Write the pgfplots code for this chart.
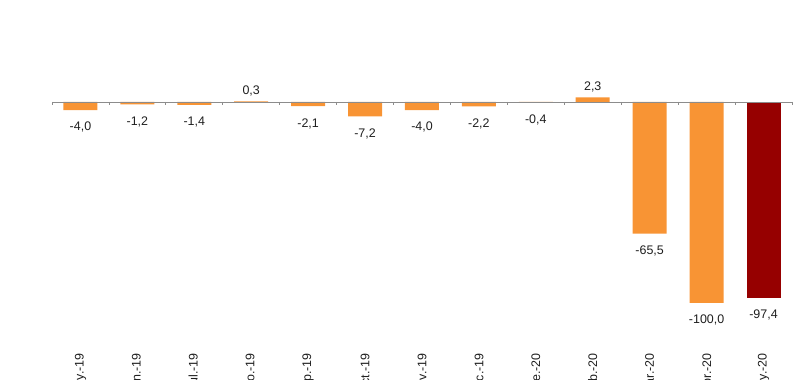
\documentclass[border=0pt]{standalone}
\usepackage{pgfplots}
\pgfplotsset{compat=1.18}
\usepackage{fontspec}
\setmainfont{Liberation Sans}
\definecolor{barorange}{RGB}{248,148,52}
\definecolor{bardark}{RGB}{150,0,0}
\definecolor{axgray}{RGB}{140,140,140}
\definecolor{txt}{RGB}{30,30,30}
\begin{document}
\begin{tikzpicture}
\useasboundingbox (0,0) rectangle (800bp,380bp);
\clip (0,0) rectangle (800bp,380bp);
\begin{axis}[
  at={(52bp,36.8bp)}, anchor=south west,
  x=56.92bp, y=2.01bp,
  xmin=-0.5, xmax=12.5, ymin=-120, ymax=50,
  axis line style={draw=none},
  ytick=\empty,
  xtick={0,...,12},
  xticklabels={may.-19,jun.-19,jul.-19,ago.-19,sep.-19,oct.-19,nov.-19,dic.-19,ene.-20,feb.-20,mar.-20,abr.-20,may.-20},
  major tick length=0pt,
  xticklabel style={rotate=90, anchor=east, font=\fontsize{12.5}{14}\selectfont, text=txt, inner sep=0pt, xshift=-10bp},
  ybar, bar width=34bp,
  clip=false,
  nodes near coords,
  nodes near coords style={font=\fontsize{12.5}{14}\selectfont, text=txt, inner sep=4bp,
    /pgf/number format/use comma, /pgf/number format/fixed, /pgf/number format/fixed zerofill,
    /pgf/number format/precision=1, /pgf/number format/assume math mode=true},
]
\addplot[fill=barorange, draw=none, bar shift=0pt, nodes near coords style={yshift=-8bp}] coordinates {
 (0,-4.0) (1,-1.2) (2,-1.4) (4,-2.1) (5,-7.2) (6,-4.0) (7,-2.2) (8,-0.4) (10,-65.5) (11,-100.0)};
\addplot[fill=barorange, draw=none, bar shift=0pt, nodes near coords style={yshift=1bp}] coordinates {
 (3,0.3) (9,2.3)};
\addplot[fill=bardark, draw=none, bar shift=0pt, nodes near coords style={yshift=-8bp}] coordinates {(12,-97.4)};
\draw[axgray, line width=0.8bp] (axis cs:-0.5,0) -- (axis cs:12.5,0);
\pgfplotsinvokeforeach{-0.5,0.5,1.5,2.5,3.5,4.5,5.5,6.5,7.5,8.5,9.5,10.5,11.5,12.5}{
  \draw[axgray, line width=0.8bp] (axis cs:#1,0) -- (axis cs:#1,-1.6);
}
\end{axis}
\end{tikzpicture}
\end{document}
